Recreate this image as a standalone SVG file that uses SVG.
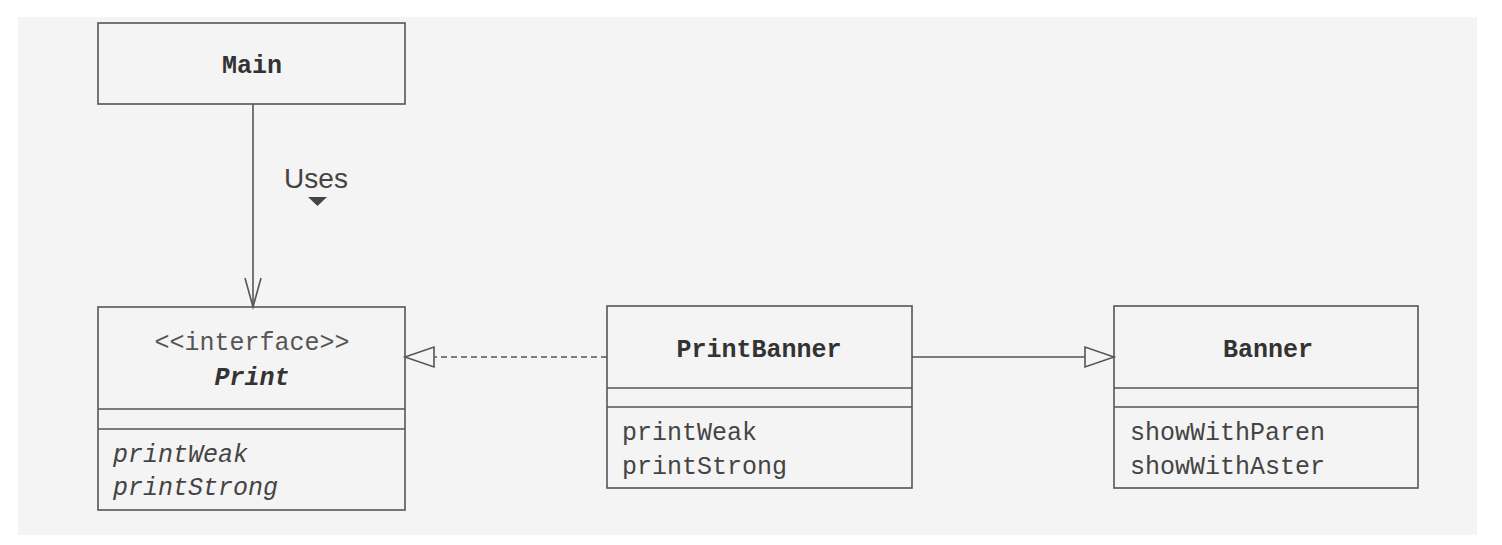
<svg xmlns="http://www.w3.org/2000/svg" width="1502" height="545" viewBox="0 0 1502 545">
<style>
.box{fill:#f4f4f4;stroke:#555;stroke-width:1.6}
.sep{stroke:#555;stroke-width:1.6}
.cn{font-family:"Liberation Mono",monospace;font-size:25px;font-weight:bold;fill:#333;text-anchor:middle}
.m{font-family:"Liberation Mono",monospace;font-size:25px;fill:#444}
.st{font-family:"Liberation Mono",monospace;font-size:25px;fill:#555;text-anchor:middle}
.line{stroke:#555;stroke-width:1.6;fill:none}
</style>
<rect x="0" y="0" width="1502" height="545" fill="#ffffff"/>
<rect x="18" y="17" width="1459" height="518" fill="#f4f4f4"/>
<g id="Main">
<rect class="box" x="98" y="23" width="307" height="81"/>
<text class="cn" x="252" y="73">Main</text>
</g>
<g id="Print">
<rect class="box" x="98" y="307" width="307" height="203"/>
<line class="sep" x1="98" y1="409" x2="405" y2="409"/>
<line class="sep" x1="98" y1="429" x2="405" y2="429"/>
<text class="st" x="252" y="350">&lt;&lt;interface&gt;&gt;</text>
<text class="cn" x="252" y="385" font-style="italic">Print</text>
<text class="m" x="113" y="462" font-style="italic">printWeak</text>
<text class="m" x="113" y="495" font-style="italic">printStrong</text>
</g>
<g id="PrintBanner">
<rect class="box" x="607" y="306" width="305" height="182"/>
<line class="sep" x1="607" y1="388" x2="912" y2="388"/>
<line class="sep" x1="607" y1="407" x2="912" y2="407"/>
<text class="cn" x="759" y="357">PrintBanner</text>
<text class="m" x="622" y="440">printWeak</text>
<text class="m" x="622" y="474">printStrong</text>
</g>
<g id="Banner">
<rect class="box" x="1114" y="306" width="304" height="182"/>
<line class="sep" x1="1114" y1="388" x2="1418" y2="388"/>
<line class="sep" x1="1114" y1="407" x2="1418" y2="407"/>
<text class="cn" x="1268" y="357">Banner</text>
<text class="m" x="1130" y="440">showWithParen</text>
<text class="m" x="1130" y="474">showWithAster</text>
</g>
<g id="connectors">
<line class="line" x1="253" y1="104" x2="253" y2="307"/>
<polyline class="line" points="245,278 253,307 261,278"/>
<text x="316" y="188" font-family="Liberation Sans,Arial,sans-serif" font-size="28" fill="#444" text-anchor="middle">Uses</text>
<polygon points="308,197 327,197 317.5,206" fill="#444"/>
<line class="line" x1="607" y1="357" x2="434" y2="357" stroke-dasharray="6,4"/>
<polygon class="line" points="405,357 434,347 434,367"/>
<line class="line" x1="912" y1="357" x2="1085" y2="357"/>
<polygon class="line" points="1114,357 1085,347 1085,367"/>
</g>
</svg>
